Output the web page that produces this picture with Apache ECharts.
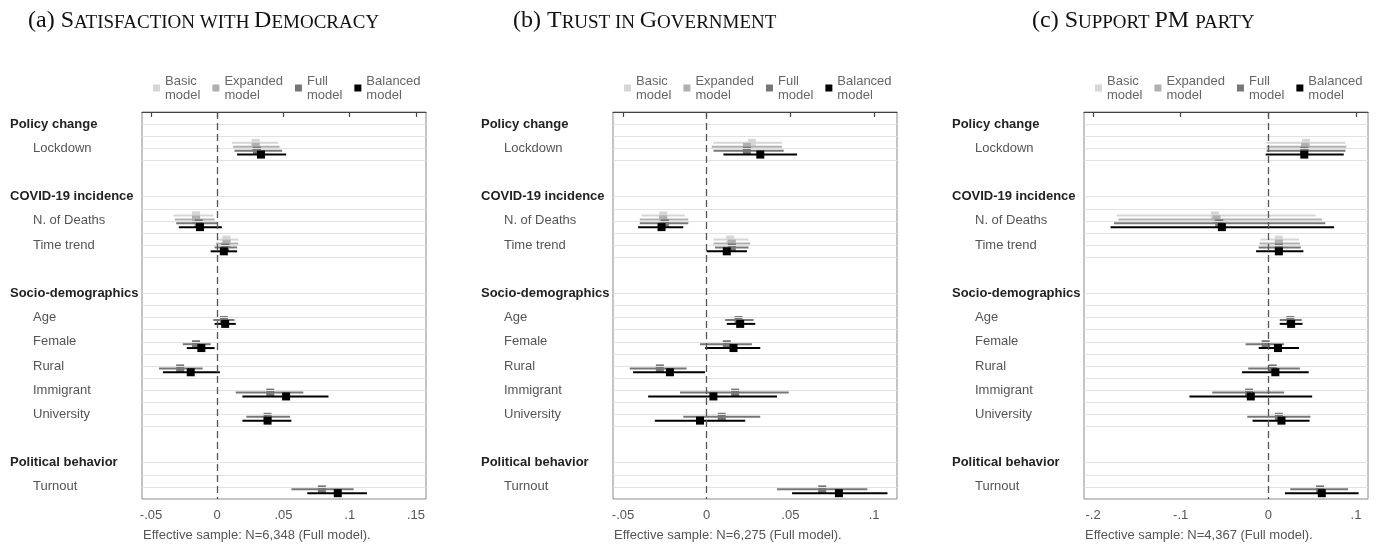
<!DOCTYPE html>
<html>
<head>
<meta charset="utf-8">
<script src="https://cdn.jsdelivr.net/npm/echarts@6/dist/echarts.min.js"></script>
<style>
html, body { margin: 0; padding: 0; background: #fff; }
#chart { width: 1378px; height: 544px; }
</style>
</head>
<body>
<div id="chart"></div>
<script>
// rows of the coefficient plot (0 = top of the box, 32 = x axis)
var variables = ['Lockdown', 'N. of Deaths', 'Time trend', 'Age', 'Female', 'Rural', 'Immigrant', 'University', 'Turnout'];
var varRows = [3, 9, 11, 17, 19, 21, 23, 25, 31];
var headers = ['Policy change', 'COVID-19 incidence', 'Socio-demographics', 'Political behavior'];
var headerRows = [1, 7, 15, 29];
var gridRows = [1, 2, 3, 4, 7, 8, 9, 10, 11, 12, 15, 16, 17, 18, 19, 20, 21, 22, 23, 24, 25, 26, 29, 30, 31];

var models = ['Basic model', 'Expanded model', 'Full model', 'Balanced model'];
var modelColors = ['#d6d6d6', '#b0b0b0', '#777777', '#000000'];
var modelOffsets = [-0.45, -0.12, 0.2, 0.52];

// [estimate, lower, upper] for each variable, null = not in the model
// (a) Satisfaction with democracy
var demBasic = [[0.029, 0.011, 0.046], [-0.016, -0.033, -0.003], [0.007, 0.000, 0.016], null, null, null, null, null, null];
var demExpanded = [[0.029, 0.012, 0.047], [-0.016, -0.032, -0.002], [0.007, -0.001, 0.016], null, null, null, null, null, null];
var demFull = [[0.030, 0.013, 0.049], [-0.014, -0.031, 0.000], [0.006, -0.002, 0.015], [0.005, -0.003, 0.013], [-0.016, -0.026, -0.005],
               [-0.028, -0.044, -0.011], [0.040, 0.014, 0.065], [0.038, 0.022, 0.055], [0.079, 0.056, 0.103]];
var demBalanced = [[0.033, 0.015, 0.052], [-0.013, -0.029, 0.0035], [0.005, -0.005, 0.015], [0.006, -0.002, 0.014], [-0.012, -0.023, -0.002],
                   [-0.020, -0.041, 0.002], [0.052, 0.019, 0.084], [0.038, 0.019, 0.056], [0.091, 0.068, 0.113]];

// (b) Trust in government
var trustBasic = [[0.027, 0.004, 0.045], [-0.026, -0.039, -0.013], [0.014, 0.004, 0.025], null, null, null, null, null, null];
var trustExpanded = [[0.024, 0.003, 0.045], [-0.026, -0.040, -0.011], [0.015, 0.004, 0.026], null, null, null, null, null, null];
var trustFull = [[0.024, 0.004, 0.046], [-0.025, -0.040, -0.011], [0.015, 0.005, 0.025], [0.019, 0.011, 0.028], [0.012, -0.004, 0.027],
                 [-0.028, -0.046, -0.012], [0.017, -0.016, 0.049], [0.009, -0.014, 0.032], [0.069, 0.042, 0.096]];
var trustBalanced = [[0.032, 0.010, 0.054], [-0.027, -0.041, -0.014], [0.012, 0.000, 0.024], [0.020, 0.012, 0.029], [0.016, -0.001, 0.032],
                     [-0.022, -0.044, -0.001], [0.004, -0.035, 0.042], [-0.004, -0.031, 0.023], [0.079, 0.051, 0.108]];

// (c) Support PM party
var pmBasic = [[0.043, -0.002, 0.088], [-0.061, -0.173, 0.054], [0.012, -0.009, 0.035], null, null, null, null, null, null];
var pmExpanded = [[0.042, -0.002, 0.089], [-0.059, -0.171, 0.061], [0.012, -0.010, 0.036], null, null, null, null, null, null];
var pmFull = [[0.041, -0.002, 0.088], [-0.056, -0.176, 0.065], [0.012, -0.011, 0.037], [0.025, 0.013, 0.038], [-0.003, -0.026, 0.018],
              [0.005, -0.023, 0.036], [-0.022, -0.064, 0.018], [0.012, -0.024, 0.048], [0.059, 0.025, 0.091]];
var pmBalanced = [[0.041, -0.003, 0.086], [-0.053, -0.180, 0.075], [0.012, -0.014, 0.040], [0.026, 0.013, 0.039], [0.011, -0.011, 0.035],
                  [0.008, -0.030, 0.046], [-0.020, -0.090, 0.050], [0.015, -0.018, 0.047], [0.061, 0.019, 0.103]];

var xTicksA = [-0.05, 0, 0.05, 0.1, 0.15];
var xTicksB = [-0.05, 0, 0.05, 0.1];
var xTicksC = [-0.2, -0.1, 0, 0.1];

var panels = [
    { title: '{c|(a) S}{s|ATISFACTION WITH }{c|D}{s|EMOCRACY}', titleLeft: 28, left: 142, min: -0.0568, max: 0.1576, ticks: xTicksA,
      note: 'Effective sample: N=6,348 (Full model).', data: [demBasic, demExpanded, demFull, demBalanced] },
    { title: '{c|(b) T}{s|RUST IN }{c|G}{s|OVERNMENT}', titleLeft: 513, left: 613, min: -0.056, max: 0.1137, ticks: xTicksB,
      note: 'Effective sample: N=6,275 (Full model).', data: [trustBasic, trustExpanded, trustFull, trustBalanced] },
    { title: '{c|(c) S}{s|UPPORT }{c|PM }{s|PARTY}', titleLeft: 1032, left: 1084, min: -0.2103, max: 0.1137, ticks: xTicksC,
      note: 'Effective sample: N=4,367 (Full model).', data: [pmBasic, pmExpanded, pmFull, pmBalanced] }
];

var chart = echarts.init(document.getElementById('chart'));

function tickLabel(v) {
    var s = String(+v.toFixed(2));
    return s.replace('0.', '.');
}

function rowLabel(v) {
    var h = headerRows.indexOf(v);
    if (h >= 0) return '{h|' + headers[h] + '}';
    var r = varRows.indexOf(v);
    if (r >= 0) return '{v|' + variables[r] + '}';
    return '';
}

function renderCoef(params, api) {
    var y = api.value(3);
    var a = api.coord([api.value(1), y]);
    var b = api.coord([api.value(2), y]);
    var m = api.coord([api.value(0), y]);
    var color = api.visual('color');
    return {
        type: 'group',
        children: [
            { type: 'line', shape: { x1: a[0], y1: a[1], x2: b[0], y2: b[1] }, style: { stroke: color, lineWidth: 2 } },
            { type: 'rect', shape: { x: m[0] - 4, y: m[1] - 4, width: 8, height: 8 }, style: { fill: color } }
        ]
    };
}

var grids = [], xAxes = [], yAxes = [], series = [], titles = [], legends = [];

panels.forEach(function (p, i) {
    grids.push({ left: p.left, top: 112, width: 284, height: 387, show: true, borderColor: '#8a8a8a', borderWidth: 1 });
    xAxes.push({
        type: 'value', gridIndex: i, min: p.min, max: p.max,
        axisLine: { show: true, lineStyle: { color: '#444', width: 1.2 } },
        axisTick: { show: true, length: 5, customValues: p.ticks, lineStyle: { color: '#444', width: 1.2 } },
        axisLabel: { customValues: p.ticks, formatter: tickLabel, color: '#555', fontSize: 13, margin: 10, fontFamily: 'Liberation Sans' },
        splitLine: { show: false }
    });
    yAxes.push({
        type: 'value', gridIndex: i, inverse: true, min: 0, max: 32,
        axisLine: { show: false }, axisTick: { show: false }, splitLine: { show: false },
        axisLabel: {
            customValues: headerRows.concat(varRows), formatter: rowLabel, align: 'left', margin: 132,
            rich: {
                h: { fontWeight: 'bold', color: '#222', fontSize: 13, fontFamily: 'Liberation Sans' },
                v: { color: '#555', fontSize: 13, fontFamily: 'Liberation Sans', padding: [0, 0, 0, 23] }
            }
        }
    });
    // background gridlines and zero line
    series.push({
        type: 'line', xAxisIndex: i, yAxisIndex: i, data: [], z: 1, silent: true,
        markLine: {
            silent: true, symbol: ['none', 'none'], animation: false, label: { show: false },
            data: gridRows.map(function (r) {
                return { yAxis: r, lineStyle: { color: '#e2e2e2', width: 1, type: 'solid' } };
            }).concat([{ xAxis: 0, lineStyle: { color: '#555', width: 1.3, type: [7, 4] } }])
        }
    });
    models.forEach(function (name, k) {
        var rows = [];
        p.data[k].forEach(function (d, j) {
            if (d) rows.push([d[0], d[1], d[2], varRows[j] + modelOffsets[k]]);
        });
        series.push({
            type: 'custom', name: name, xAxisIndex: i, yAxisIndex: i, z: 3,
            itemStyle: { color: modelColors[k] },
            renderItem: renderCoef, data: rows, animation: false
        });
    });
    titles.push({
        text: p.title, left: p.titleLeft, top: 9, padding: 0,
        textStyle: {
            fontWeight: 'normal', color: '#111',
            rich: {
                c: { fontSize: 24, fontFamily: 'Liberation Serif', color: '#111', verticalAlign: 'bottom' },
                s: { fontSize: 19, fontFamily: 'Liberation Serif', color: '#111', verticalAlign: 'bottom' }
            }
        }
    });
    titles.push({
        text: p.note, left: p.left + 1, top: 529, padding: 0,
        textStyle: { fontWeight: 'normal', color: '#555', fontSize: 13, fontFamily: 'Liberation Sans' }
    });
    legends.push({
        data: models, left: p.left + 6, top: 69, orient: 'horizontal', icon: 'rect',
        itemWidth: 7, itemHeight: 7, itemGap: 12, selectedMode: false,
        formatter: function (name) { return name.replace(' ', '\n'); },
        textStyle: { color: '#666', fontSize: 13, lineHeight: 14, fontFamily: 'Liberation Sans' }
    });
});

var option = {
    backgroundColor: '#fff',
    animation: false,
    title: titles,
    legend: legends,
    grid: grids,
    xAxis: xAxes,
    yAxis: yAxes,
    series: series
};

chart.setOption(option);
</script>
</body>
</html>
